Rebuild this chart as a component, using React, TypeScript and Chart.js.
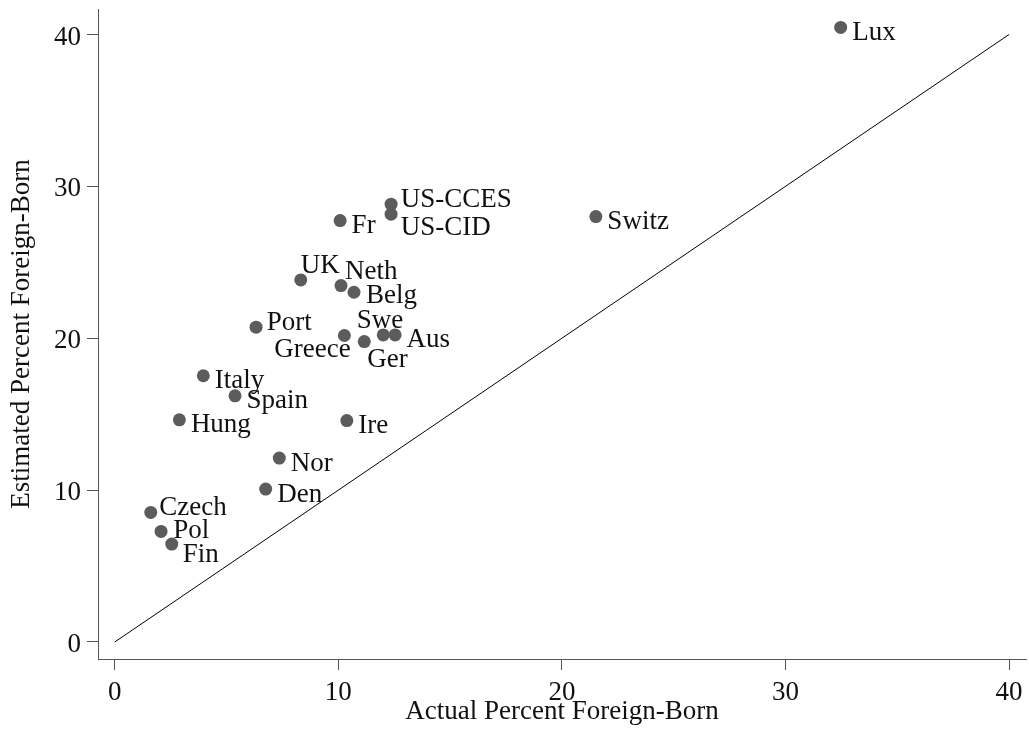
import React, { useEffect, useRef } from "react";
import { Chart, registerables } from "chart.js";

Chart.register(...registerables);

// Country survey estimates vs. actual share of foreign-born residents
const countries = [
  "Lux", "Switz", "US-CCES", "US-CID", "Fr", "UK", "Neth", "Belg", "Port", "Swe", "Aus",
  "Greece", "Ger", "Italy", "Spain", "Hung", "Ire", "Nor", "Den", "Czech", "Pol", "Fin",
];
const actualPct = [
  32.47, 21.52, 12.36, 12.36, 10.08, 8.32, 10.12, 10.7, 6.32, 12.01, 12.54,
  10.27, 11.16, 3.96, 5.38, 2.89, 10.38, 7.36, 6.75, 1.61, 2.07, 2.55,
];
const estimatedPct = [
  40.47, 28.01, 28.83, 28.17, 27.75, 23.84, 23.47, 23.03, 20.73, 20.22, 20.22,
  20.18, 19.78, 17.53, 16.21, 14.63, 14.58, 12.11, 10.07, 8.53, 7.28, 6.45,
];
const tickValues = [0, 10, 20, 30, 40];
const xTitle = "Actual Percent Foreign-Born";
const yTitle = "Estimated Percent Foreign-Born";

// Label placement around each marker: [dx, baseline dy, align]
type Placement = [number, number, CanvasTextAlign];
const EAST: Placement = [11.5, 12.5, "left"];
const labelPlacement: Record<string, Placement> = {
  "US-CCES": [9.7, 2.4, "left"],
  "US-CID": [9.7, 20.7, "left"],
  UK: [0, -7.3, "left"],
  Neth: [4, -6.4, "left"],
  Belg: [12, 10.6, "left"],
  Swe: [-3.3, -6.7, "center"],
  Greece: [6.4, 21, "right"],
  Ger: [3, 25, "left"],
  Port: [10.7, 2.7, "left"],
  Czech: [8.6, 2.3, "left"],
  Pol: [12.3, 6.6, "left"],
  Fin: [11, 18.4, "left"],
};

const FONT_FAMILY = "'Liberation Serif', 'DejaVu Serif', serif";
const FONT_SIZE = 27;
const AXIS_COLOR = "#555555";

const markerLabels = {
  id: "markerLabels",
  afterDatasetsDraw(chart: any) {
    const meta = chart.getDatasetMeta(1);
    const ctx = chart.ctx;
    ctx.save();
    ctx.font = `${FONT_SIZE}px ${FONT_FAMILY}`;
    ctx.fillStyle = "#111111";
    ctx.textBaseline = "alphabetic";
    meta.data.forEach((pt: any, i: number) => {
      const name = countries[i];
      const [dx, dy, align] = labelPlacement[name] || EAST;
      ctx.textAlign = align;
      ctx.fillText(name, pt.x + dx, pt.y + dy);
    });
    ctx.restore();
  },
};

export default function App() {
  const canvasRef = useRef<HTMLCanvasElement | null>(null);

  useEffect(() => {
    if (!canvasRef.current) return;
    const points = countries.map((_, i) => ({ x: actualPct[i], y: estimatedPct[i] }));
    const font = { family: FONT_FAMILY, size: FONT_SIZE };

    const chart = new Chart(canvasRef.current, {
      type: "scatter",
      data: {
        datasets: [
          {
            type: "line",
            data: [
              { x: 0, y: 0 },
              { x: 40, y: 40 },
            ],
            borderColor: "#000000",
            borderWidth: 1,
            pointRadius: 0,
            fill: false,
          } as any,
          {
            data: points,
            pointRadius: 6.5,
            pointBackgroundColor: "#5c5c5c",
            pointBorderWidth: 0,
            pointHoverRadius: 6.5,
          },
        ],
      },
      options: {
        animation: false,
        responsive: true,
        maintainAspectRatio: false,
        events: [],
        layout: { autoPadding: false, padding: { top: 9, right: 3, left: 0, bottom: 0 } },
        plugins: {
          legend: { display: false },
          tooltip: { enabled: false },
        },
        scales: {
          x: {
            type: "linear",
            min: -0.75,
            max: 40.76,
            afterBuildTicks: (scale: any) => {
              scale.ticks = tickValues.map((v) => ({ value: v }));
            },
            afterFit: (scale: any) => {
              scale.height = 79;
              scale.paddingLeft = 0;
              scale.paddingRight = 0;
            },
            grid: {
              drawOnChartArea: false,
              drawTicks: true,
              tickLength: 11,
              tickColor: AXIS_COLOR,
              tickWidth: 1,
            },
            border: { display: true, color: AXIS_COLOR, width: 1 },
            ticks: {
              color: "#111111",
              font,
              padding: 7,
              maxRotation: 0,
              autoSkip: false,
            },
            title: {
              display: true,
              text: xTitle,
              color: "#111111",
              font,
              padding: { top: 0, bottom: 10 },
            },
          },
          y: {
            type: "linear",
            min: -1.12,
            max: 41.68,
            afterBuildTicks: (scale: any) => {
              scale.ticks = tickValues.map((v) => ({ value: v }));
            },
            afterFit: (scale: any) => {
              scale.width = 98;
              scale.paddingTop = 0;
              scale.paddingBottom = 0;
            },
            grid: {
              drawOnChartArea: false,
              drawTicks: true,
              tickLength: 11,
              tickColor: AXIS_COLOR,
              tickWidth: 1,
            },
            border: { display: true, color: AXIS_COLOR, width: 1 },
            ticks: {
              color: "#111111",
              font,
              padding: 6,
              labelOffset: 3,
              autoSkip: false,
            },
            title: {
              display: true,
              text: yTitle,
              color: "#111111",
              font,
              padding: { top: 6, bottom: 0 },
            },
          },
        },
      },
      plugins: [markerLabels],
    });

    return () => chart.destroy();
  }, []);

  return (
    <div
      style={{
        position: "fixed",
        left: 0,
        top: 0,
        width: 1029,
        height: 738,
        background: "#ffffff",
      }}
    >
      <canvas ref={canvasRef} />
    </div>
  );
}
